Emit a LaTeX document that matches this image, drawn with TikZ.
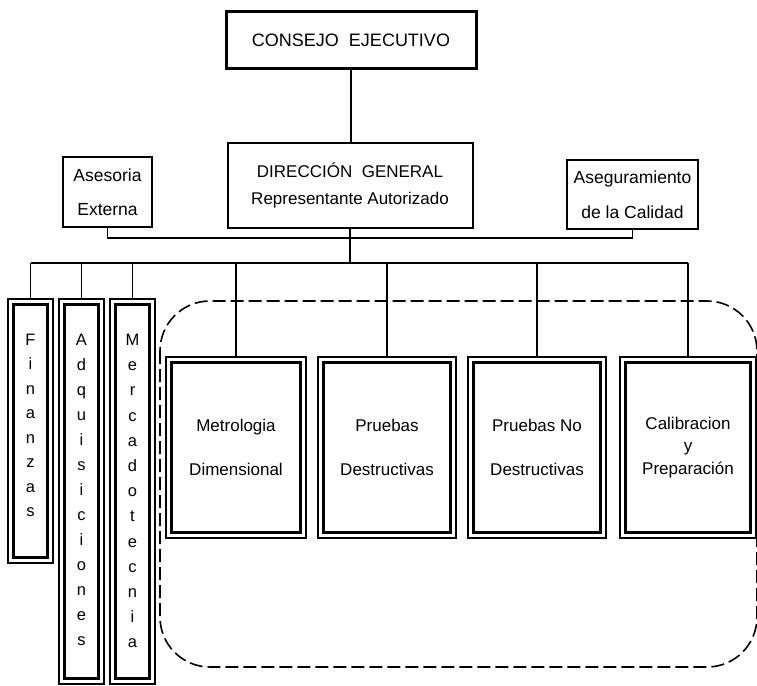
\documentclass[tikz,border=0pt]{standalone}
\usepackage{fontspec}
\setmainfont{Liberation Sans}
\begin{document}
\begin{tikzpicture}[x=1pt,y=-1pt,
  box/.style={draw, line width=1.8pt, inner sep=0pt, align=center},
  obox/.style={draw, line width=1.3pt, inner sep=0pt, align=center},
  inbox/.style={line width=2.4pt},
  conn/.style={line width=1.3pt},
  letters/.style={font=\fontsize{16.5}{24.5}\selectfont, align=center, inner sep=0pt},
]
\useasboundingbox (0,0) rectangle (757,685);

% dashed group
\draw[line width=1.6pt, dash pattern=on 13pt off 5pt, rounded corners=50pt] (160,301) rectangle (757,667);

% top boxes
\node[box, line width=3pt, minimum width=250pt, minimum height=56pt, font=\fontsize{18}{20}\selectfont] (cons) at (351,40) {CONSEJO\ \ EJECUTIVO};
\node[box, line width=2pt, minimum width=245pt, minimum height=85pt, font=\fontsize{17}{27}\selectfont] (dir) at (350,185.5) {DIRECCIÓN\ \ GENERAL\\Representante Autorizado};
\node[box, minimum width=89pt, minimum height=70pt, font=\fontsize{17.5}{34}\selectfont] (ase) at (107.5,192) {Asesoria\\Externa};
\node[box, minimum width=131pt, minimum height=69pt, font=\fontsize{17.5}{35}\selectfont] (asg) at (632.5,194.5) {Aseguramiento\\de la Calidad};

\coordinate (busA) at (0,238);
\coordinate (busB) at (0,263);

% vertical boxes
\node[obox, minimum width=45pt, minimum height=264pt] (fin) at (30.5,431) {};
\node[obox, minimum width=45pt, minimum height=385pt] (adq) at (81.5,491.5) {};
\node[obox, minimum width=45pt, minimum height=385pt] (merc) at (132.5,491.5) {};
\node[letters] (finT) at (30.5,425.5) {F\\i\\n\\a\\n\\z\\a\\s};
\node[letters, font=\fontsize{16.5}{25}\selectfont] (adqT) at (81.5,490) {A\\d\\q\\u\\i\\s\\i\\c\\i\\o\\n\\e\\s};
\node[letters, font=\fontsize{16.5}{25.2}\selectfont] (mercT) at (132.5,491) {M\\e\\r\\c\\a\\d\\o\\t\\e\\c\\n\\i\\a};

% main boxes
\node[obox, minimum width=140pt, minimum height=181pt, font=\fontsize{17}{44}\selectfont] (metro) at (236,447.5) {Metrologia\\Dimensional};
\node[obox, minimum width=138pt, minimum height=181pt, font=\fontsize{17}{44}\selectfont] (prue) at (387,447.5) {Pruebas\\Destructivas};
\node[obox, minimum width=138pt, minimum height=181pt, font=\fontsize{17}{44}\selectfont] (pno) at (537,447.5) {Pruebas No\\Destructivas};
\node[obox, minimum width=136pt, minimum height=181pt, font=\fontsize{17}{22.5}\selectfont] (cal) at (688,447.5) {Calibracion\\y\\Preparación};

\foreach \n in {metro,prue,pno,cal,fin,adq,merc}
  \draw[inbox] ([shift={(6,6)}]\n.north west) rectangle ([shift={(-6,-6)}]\n.south east);

% connectors
\draw[conn] (cons.south) -- (cons.south |- dir.north);
\draw[conn] (dir.south) -- (dir.south |- busB);
\draw[conn] (ase.south) -- (ase.south |- busA) -- (asg.south |- busA) -- (asg.south);
\draw[line width=1.6pt] (fin.north |- busB) -- (cal.north |- busB);
\foreach \n in {fin,adq,merc,metro,prue,pno,cal}
  \draw[conn] (\n.north |- busB) -- (\n.north);
\end{tikzpicture}
\end{document}
